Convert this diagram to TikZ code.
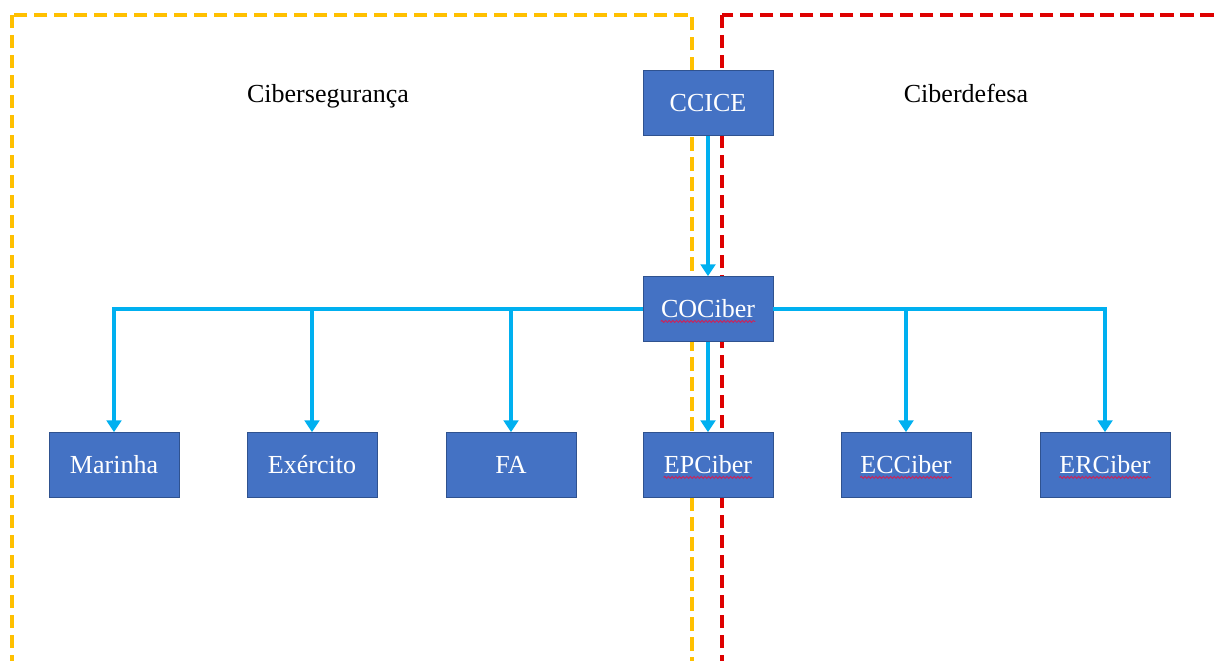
\documentclass[tikz,border=0pt]{standalone}
\usepackage{fontspec}
\setmainfont{Liberation Serif}
\usetikzlibrary{arrows.meta,decorations.pathmorphing}

\definecolor{box blue}{RGB}{68,114,196}
\definecolor{box edge}{RGB}{47,82,143}
\definecolor{link blue}{RGB}{0,176,240}
\definecolor{zone yellow}{RGB}{255,192,0}
\definecolor{zone red}{RGB}{222,0,0}
\definecolor{spell red}{RGB}{196,40,96}
\tikzstyle{unit} = [rectangle, fill=box blue, draw=box edge, thin, minimum width=3.25cm, minimum height=1.625cm, inner sep=0pt]
\tikzstyle{unit text} = [text=white, inner sep=0pt, font=\fontsize{18.5}{22}\selectfont]
\tikzstyle{zone label} = [anchor=base, font=\fontsize{18.5}{22}\selectfont]
\tikzstyle{link} = [draw, link blue, line width=2.8pt, -{Triangle[length=8.5pt,width=10.5pt]}]
\tikzstyle{zone} = [draw, line width=2.8pt, dash pattern=on 0.33cm off 0.17cm]
\tikzstyle{spell mark} = [draw, spell red, line width=0.7pt, decorate, decoration={snake, amplitude=0.7pt, segment length=2.6pt}]

\begin{document}
\begin{tikzpicture}[x=0.025cm, y=-0.025cm]
    \useasboundingbox (0,0) rectangle (1219,661);

    % the two dashed zones
    \path[zone, zone yellow] (12,15) rectangle (692,663);
    \path[zone, zone red] (722,15) rectangle (1240,663);
    \node[zone label] (seg) at (328,103) {Cibersegurança};
    \node[zone label] (def) at (966,103) {Ciberdefesa};

    % the boxes
    \foreach \pos/\name/\txt in {{(708,103)/ccice/CCICE}, {(708,309)/cociber/COCiber}, {(114,465)/marinha/Marinha}, {(312,465)/exercito/Exército}, {(511,465)/fa/FA}, {(708,465)/epciber/EPCiber}, {(906,465)/ecciber/ECCiber}, {(1105,465)/erciber/ERCiber}} {
      \node[unit] (\name) at \pos {};
      \node[unit text] (\name-t) at (\name) {\txt};
    }

    % red marks under the unknown words
    \foreach \name in {cociber, epciber, ecciber, erciber} {
      \path[spell mark] ([yshift=-2.5pt]\name-t.base west) -- ([yshift=-2.5pt]\name-t.base east);
    }

    % The connections between them
    \path[link] (ccice) -- (cociber);
    \path[link] (cociber) -- (epciber);
    \foreach \sink in {marinha, exercito, fa} {
      \path[link] (cociber.west) -| (\sink.north);
    }
    \foreach \sink in {ecciber, erciber} {
      \path[link] (cociber.east) -| (\sink.north);
    }

\end{tikzpicture}
\end{document}
